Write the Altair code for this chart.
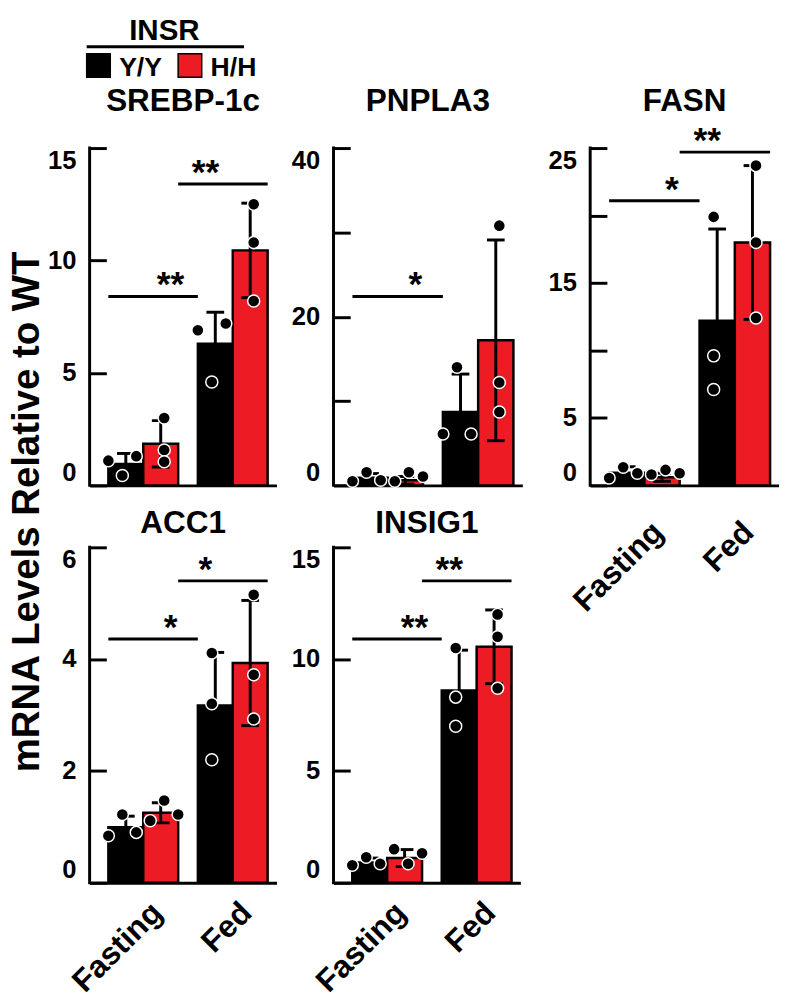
import altair as alt
import pandas as pd

# ---------------- data ----------------
genes = ["SREBP-1c", "PNPLA3", "FASN", "ACC1", "INSIG1"]
conditions = ["Fasting", "Fed"]
genotypes = ["Y/Y", "H/H"]
colors = ["#000000", "#ED1C24"]
legend_title = "INSR"
y_title = "mRNA Levels Relative to WT"

# group order: Fasting Y/Y, Fasting H/H, Fed Y/Y, Fed H/H
means = {
    "SREBP-1c": [0.95, 1.85, 6.3, 10.45],
    "PNPLA3": [0.9, 0.6, 8.7, 17.2],
    "FASN": [0.93, 0.6, 12.2, 18.0],
    "ACC1": [0.99, 1.25, 3.17, 3.93],
    "INSIG1": [0.9, 1.1, 8.6, 10.55],
}
sds = {
    "SREBP-1c": [0.47, 1.03, 1.4, 2.1],
    "PNPLA3": [0.5, 0.45, 4.5, 11.9],
    "FASN": [0.45, 0.3, 6.8, 5.7],
    "ACC1": [0.2, 0.18, 0.95, 1.12],
    "INSIG1": [0.2, 0.38, 1.8, 1.65],
}
points = {
    "SREBP-1c": [[1.1, 0.44, 1.3], [1.57, 3.0, 1.05], [6.9, 7.2, 4.6], [12.5, 10.8, 8.2]],
    "PNPLA3": [[0.5, 1.55, 0.6], [0.5, 1.55, 1.05], [14.0, 6.1, 6.1], [30.8, 12.2, 8.7]],
    "FASN": [[0.55, 1.35, 0.9], [0.8, 1.15, 0.9], [19.9, 9.6, 7.1], [23.7, 18.0, 12.4]],
    "ACC1": [[0.84, 1.22, 0.9], [1.11, 1.47, 1.22], [4.11, 3.2, 2.2], [5.15, 3.72, 2.93]],
    "INSIG1": [[0.78, 1.14, 0.85], [1.5, 0.85, 1.32], [10.5, 8.3, 7.0], [12.0, 11.0, 8.7]],
}
y_max = {"SREBP-1c": 15, "PNPLA3": 40, "FASN": 25, "ACC1": 6, "INSIG1": 15}
y_ticks = {
    "SREBP-1c": [0, 5, 10, 15],
    "PNPLA3": [0, 10, 20, 30, 40],
    "FASN": [0, 5, 10, 15, 20, 25],
    "ACC1": [0, 2, 4, 6],
    "INSIG1": [0, 5, 10, 15],
}
y_labels = {
    "SREBP-1c": [0, 5, 10, 15],
    "PNPLA3": [0, 20, 40],
    "FASN": [0, 5, 15, 25],
    "ACC1": [0, 2, 4, 6],
    "INSIG1": [0, 5, 10, 15],
}
# significance: genotype compared Fasting vs Fed, bracket height, label
sig = {
    "SREBP-1c": [("Y/Y", 8.4, "**"), ("H/H", 13.4, "**")],
    "PNPLA3": [("Y/Y", 22.4, "*")],
    "FASN": [("Y/Y", 21.1, "*"), ("H/H", 24.7, "**")],
    "ACC1": [("Y/Y", 4.36, "*"), ("H/H", 5.4, "*")],
    "INSIG1": [("Y/Y", 10.9, "**"), ("H/H", 13.5, "**")],
}

# ---------------- styling ----------------
FONT = "Liberation Sans"
PI, PO, AL = 0.22, 0.154, 0.68
slots = [f"{g}|{s}" for g in genotypes for s in ("L", "M", "R")]
COLLIDE = 0.03  # fraction of the axis within which dots are spread sideways


def spread(vals, thr):
    """Scatter-dot-plot style: dots that would overlap are spread L/M/R."""
    n = len(vals)
    parent = list(range(n))

    def find(i):
        while parent[i] != i:
            i = parent[i]
        return i

    for a in range(n):
        for b in range(a + 1, n):
            if abs(vals[a] - vals[b]) < thr:
                parent[find(b)] = find(a)
    groups = {}
    for i in range(n):
        groups.setdefault(find(i), []).append(i)
    out = ["M"] * n
    for members in groups.values():
        if len(members) == 2:
            out[members[0]], out[members[1]] = "L", "R"
        elif len(members) >= 3:
            for idx, s in zip(members, ["L", "M", "R"]):
                out[idx] = s
    return out


def frames(gene):
    bars, pts, lines, stars = [], [], [], []
    thr = COLLIDE * y_max[gene]
    k = 0
    for c in conditions:
        for g in genotypes:
            m, s = means[gene][k], sds[gene][k]
            bars.append(dict(cond=c, geno=g, mean=m, lo=max(m - s, 0), hi=m + s))
            vals = points[gene][k]
            for v, sl in zip(vals, spread(vals, thr)):
                pts.append(dict(cond=c, geno=g, slot=f"{g}|{sl}", value=v))
            k += 1
    for n, (g, yv, lab) in enumerate(sig[gene]):
        for c in conditions:
            lines.append(dict(id=n, cond=c, geno=g, y=yv))
        stars.append(dict(geno=g, y=yv, label=lab))
    return (pd.DataFrame(bars), pd.DataFrame(pts), pd.DataFrame(lines),
            pd.DataFrame(stars))


def panel(gene, W, H, show_x, title_gap, xlab_pad=25, extra=()):
    bars, pts, lines, stars = frames(gene)
    yscale = alt.Scale(domain=[0, y_max[gene]], nice=False, zero=True)
    yaxis = alt.Axis(
        values=y_ticks[gene],
        labelExpr=f"indexof({y_labels[gene]}, datum.value) >= 0 ? datum.label : ''",
        offset=-17, tickSize=17, tickWidth=3, tickColor="black", domain=False,
        grid=False, title=None, labelPadding=14, labelFlush=True,
        labelFontSize=26, labelFontWeight="bold", labelColor="black", labelFont=FONT,
    )
    xscale = alt.Scale(domain=conditions, paddingInner=PI, paddingOuter=PO, align=AL)
    xaxis = alt.Axis(
        title=None, ticks=False, domain=True, domainWidth=3, domainColor="black",
        labels=show_x, labelAngle=-45, labelAlign="right", labelBaseline="middle",
        labelFontSize=32, labelFontWeight="bold", labelColor="black", labelFont=FONT,
        labelPadding=xlab_pad, labelOffset=14,
    )
    X = alt.X("cond:N", scale=xscale, axis=xaxis, sort=conditions, title=None)
    XO = alt.XOffset("geno:N", sort=genotypes,
                     scale=alt.Scale(domain=genotypes, paddingInner=0, paddingOuter=0))

    def Y(f):
        return alt.Y(f, scale=yscale, axis=yaxis, title=None)

    layers = []
    layers.append(alt.Chart(bars).mark_bar(stroke="black", strokeWidth=2.5).encode(
        x=X, xOffset=XO, y=Y("mean:Q"),
        color=alt.Color("geno:N", scale=alt.Scale(domain=genotypes, range=colors), legend=None)))
    layers.append(alt.Chart(bars).mark_rule(color="black", strokeWidth=3).encode(
        x=X, xOffset=XO, y=Y("lo:Q"), y2="hi:Q"))
    layers.append(alt.Chart(bars).mark_tick(color="black", size=18, thickness=3, opacity=1).encode(
        x=X, xOffset=XO, y=Y("hi:Q")))
    layers.append(alt.Chart(bars).mark_tick(color="black", size=18, thickness=3, opacity=1).encode(
        x=X, xOffset=XO, y=Y("lo:Q")))
    layers.append(alt.Chart(pts).mark_circle(size=150, fill="black", stroke="white",
                                             strokeWidth=1.5, opacity=1).encode(
        x=X,
        xOffset=alt.XOffset("slot:N", sort=slots,
                            scale=alt.Scale(domain=slots, paddingInner=0, paddingOuter=0)),
        y=Y("value:Q")))
    layers.append(alt.Chart(lines).mark_line(color="black", strokeWidth=3).encode(
        x=X, xOffset=XO, y=Y("y:Q"), detail="id:N"))
    step_in_bands = 1.0 / (1 - PI)
    for gi, g in enumerate(genotypes):
        sub = stars[stars["geno"] == g].copy()
        if len(sub) == 0:
            continue
        bp = (0.25 + 0.5 * gi) + 0.5 * step_in_bands
        anchor = conditions[0]
        if bp > 1:
            bp -= step_in_bands
            anchor = conditions[1]
        sub["cond"] = anchor
        layers.append(alt.Chart(sub).mark_text(
            font=FONT, fontSize=36, fontWeight="bold", color="black",
            baseline="alphabetic", align="center").encode(
            x=alt.X("cond:N", scale=xscale, axis=xaxis, sort=conditions, bandPosition=bp),
            y=Y("y:Q"), text="label:N"))
    tdf = pd.DataFrame({"gene": [gene]})
    layers.append(alt.Chart(tdf).mark_text(
        font=FONT, fontSize=32, fontWeight="bold", color="black",
        baseline="alphabetic", align="center").encode(
        text="gene:N", x=alt.value(W / 2), y=alt.value(-title_gap)))
    layers.append(alt.Chart(tdf).mark_rule(color="black", strokeWidth=3).encode(
        x=alt.value(0), y=alt.value(-1.5), y2=alt.value(H + 1.5)))
    layers.extend(extra)
    return alt.layer(*layers).resolve_scale(xOffset="independent").properties(width=W, height=H)


def legend_layers():
    out = []
    ldf = pd.DataFrame({"t": [legend_title]})
    out.append(alt.Chart(ldf).mark_text(
        font=FONT, fontSize=30, fontWeight="bold", color="black",
        baseline="alphabetic", align="center").encode(
        text="t:N", x=alt.value(76), y=alt.value(-110)))
    out.append(alt.Chart(ldf).mark_rule(color="black", strokeWidth=3).encode(
        x=alt.value(-3), x2=alt.value(157), y=alt.value(-103)))
    for i, (g, col) in enumerate(zip(genotypes, colors)):
        gdf = pd.DataFrame({"g": [g]})
        out.append(alt.Chart(gdf).mark_square(
            size=576, fill=col, stroke="black", strokeWidth=1.5, opacity=1).encode(
            x=alt.value(9 + 93 * i), y=alt.value(-84)))
        out.append(alt.Chart(gdf).mark_text(
            font=FONT, fontSize=27, fontWeight="bold", color="black",
            baseline="alphabetic", align="left").encode(
            text="g:N", x=alt.value(30 + 93 * i), y=alt.value(-73)))
    ydf = pd.DataFrame({"t": [y_title]})
    out.append(alt.Chart(ydf).mark_text(
        font=FONT, fontSize=39, fontWeight="bold", color="black",
        baseline="alphabetic", align="center", angle=270).encode(
        text="t:N", x=alt.value(-51), y=alt.value(370)))
    return out


def spacer(w):
    return alt.Chart(pd.DataFrame({"a": [0]})).mark_point(opacity=0).encode(
        x=alt.value(0), y=alt.value(0)).properties(width=w, height=10)


p_srebp = panel("SREBP-1c", 190, 343, False, 38, extra=legend_layers())
p_pnpla3 = panel("PNPLA3", 192, 343, False, 38)
p_fasn = panel("FASN", 192, 343, True, 38, xlab_pad=42)
p_acc1 = panel("ACC1", 190, 341, True, 15, xlab_pad=25)
p_insig1 = panel("INSIG1", 190, 341, True, 15, xlab_pad=25)

chart = alt.concat(
    p_srebp, spacer(53), p_pnpla3, spacer(69), p_fasn,
    p_acc1, spacer(58), p_insig1,
    columns=5,
    spacing={"row": 63, "column": 0},
    bounds="flush",
    align={"row": "all", "column": "none"},
).properties(
    padding={"left": 0, "top": 0, "right": 0, "bottom": 2}
).configure(font=FONT).configure_view(stroke=None)

chart.save("out.html", embed_options={"renderer": "svg", "actions": False})
